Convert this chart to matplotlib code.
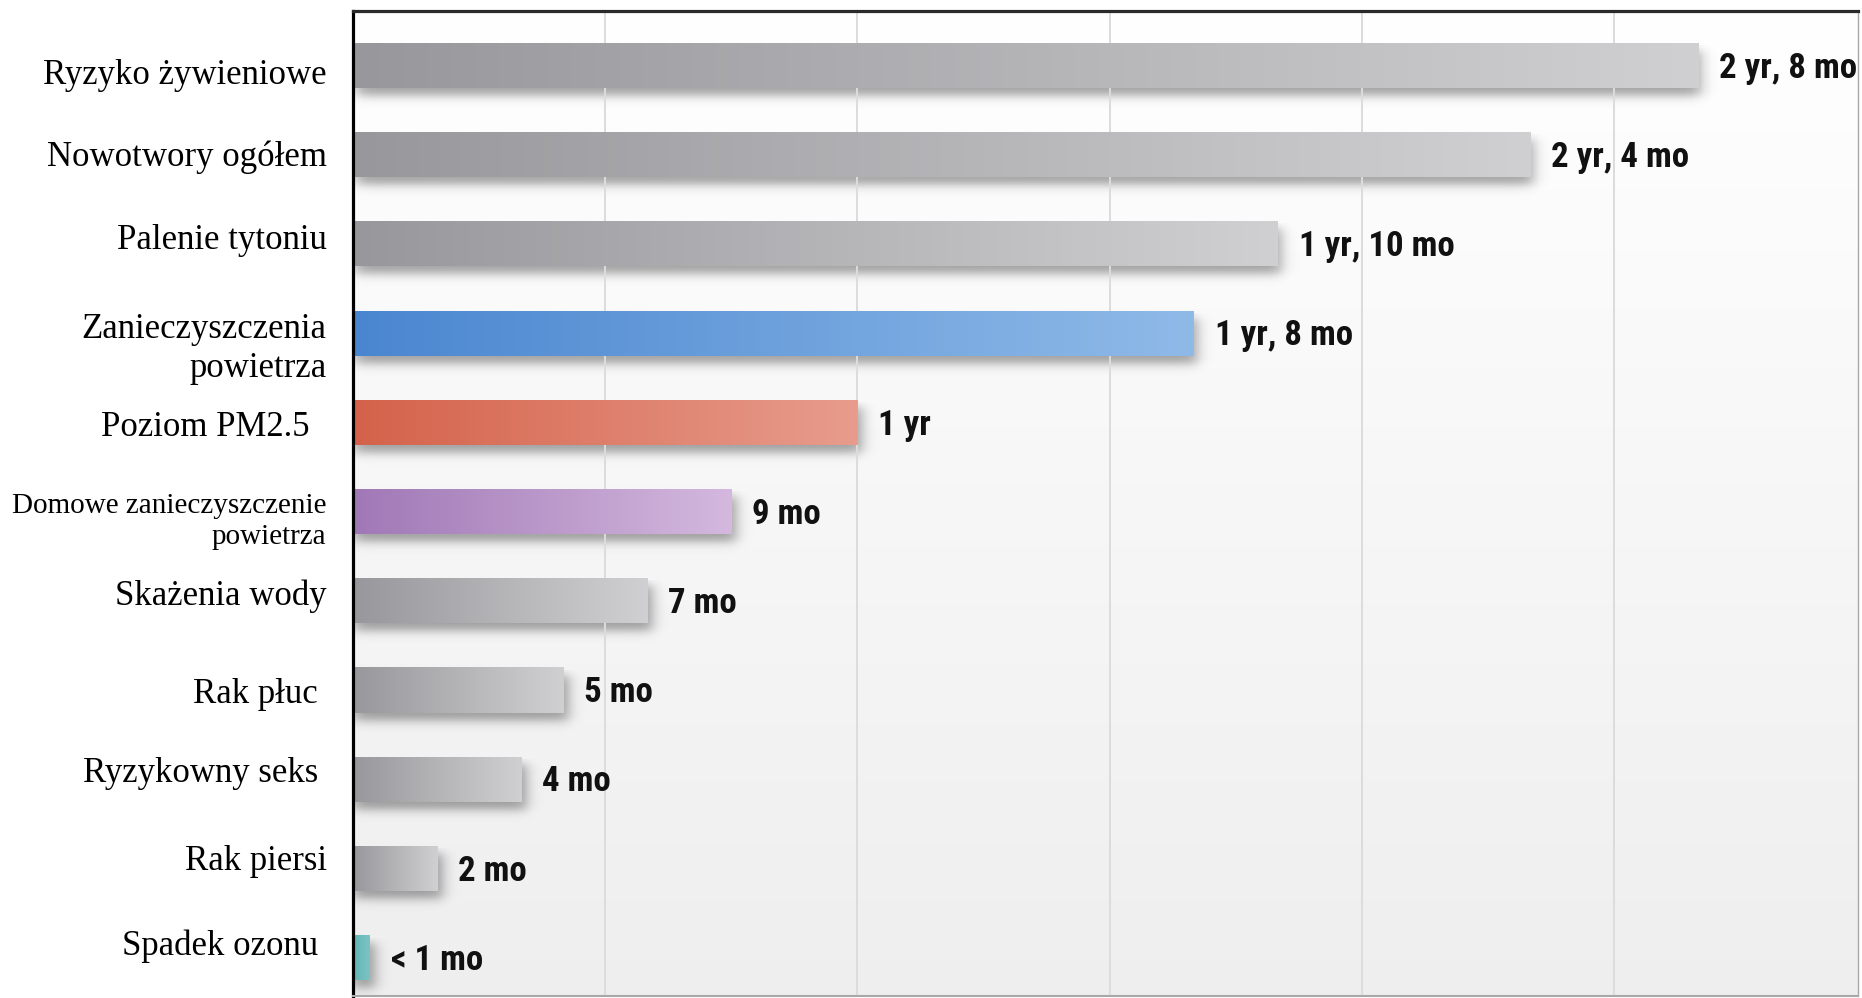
import numpy as np
import matplotlib
matplotlib.use("Agg")
import matplotlib.pyplot as plt
from matplotlib import font_manager
from matplotlib.font_manager import FontProperties
from matplotlib.textpath import TextPath
from matplotlib.colors import to_rgb

# Life expectancy lost per risk factor (in months)
categories = ["Ryzyko żywieniowe", "Nowotwory ogółem", "Palenie tytoniu",
              "Zanieczyszczenia\npowietrza", "Poziom PM2.5  ",
              "Domowe zanieczyszczenie\npowietrza", "Skażenia wody",
              "Rak płuc ", "Ryzykowny seks ", "Rak piersi", "Spadek ozonu "]
months = [32, 28, 22, 20, 12, 9, 7, 5, 4, 2, 0.4]
value_labels = ["2 yr, 8 mo", "2 yr, 4 mo", "1 yr, 10 mo", "1 yr, 8 mo", "1 yr",
                "9 mo", "7 mo", "5 mo", "4 mo", "2 mo", "< 1 mo"]

# left -> right gradient colours of each bar
gray = ("#98989c", "#d0d0d2")
bar_colors = [gray, gray, gray,
              ("#4a86d0", "#8fbae8"),
              ("#d4624a", "#e89c8d"),
              ("#a078b6", "#d4b8de"),
              gray, gray, gray, gray,
              ("#62b4b4", "#7cc4c4")]

# category label font sizes and vertical nudges (pixels, + is down)
label_sizes = [25, 25, 25, 25, 25, 21, 25, 25, 25, 25, 25]
label_nudge = [10, 3, -3, 16, 5, 10, -5, 5, -6, -7, -11]

XMAX = 35.8
YTOP, YBOT = -0.61, 10.43
BAR_H = 0.505
DPI = 100


def pick_condensed_bold():
    """Heaviest narrow sans face available on this machine."""
    files = [f.fname for f in font_manager.fontManager.ttflist]
    prefs = ["NotoSans-ExtraCondensedBlack", "NotoSans-CondensedBlack",
             "RobotoCondensed-Black.", "NotoSans-ExtraCondensedExtraBold",
             "NotoSans-CondensedExtraBold", "RobotoCondensed-ExtraBold.",
             "NotoSans-ExtraCondensedBold.", "NotoSans-CondensedBold.",
             "LiberationSansNarrow-Bold.", "RobotoCondensed-Bold.",
             "OpenSans-CondBold", "DejaVuSansCondensed-Bold."]
    for p in prefs:
        for fn in files:
            if p.lower() in fn.lower().replace(" ", ""):
                return FontProperties(fname=fn)
    for fn in files:
        low = fn.lower()
        if ("condensed" in low or "narrow" in low) and "bold" in low \
                and "italic" not in low and "semi" not in low:
            return FontProperties(fname=fn)
    return FontProperties(family="DejaVu Sans", weight="bold")


value_fp = pick_condensed_bold()
# size so that the widest label keeps the width of a condensed face
em_w = TextPath((0, 0), "2 yr, 8 mo", prop=value_fp, size=1).get_extents().width
size_px = min(136 / em_w, 38)
value_fp.set_size(size_px * 72 / DPI)

fig = plt.figure(figsize=(18.62, 9.98), dpi=DPI)
ax = fig.add_axes([353 / 1862, 2 / 998, 1505 / 1862, 985 / 998])

ypos = np.arange(len(categories))

# plot background: white at the top fading to light grey
bg = np.linspace(1.0, 0.935, 256)[:, None, None] * np.ones((1, 2, 3))
ax.imshow(bg, extent=[0, XMAX, YBOT, YTOP], aspect="auto", zorder=0,
          interpolation="bilinear")

# soft drop shadows under the bars
px_x = XMAX / 1505
px_y = (YBOT - YTOP) / 985


def soft_step(t, w):
    return 0.5 * (1 + np.tanh(t / w))


for y, v in zip(ypos, months):
    x0, x1 = 0, v + 5 * px_x
    y0, y1 = y - BAR_H / 2 + 8 * px_y, y + BAR_H / 2 + 8 * px_y
    ex = [0, v + 30 * px_x, y1 + 25 * px_y, y0 - 5 * px_y]
    xs = np.linspace(ex[0], ex[1], 200)
    ys = np.linspace(ex[3], ex[2], 80)
    X, Y = np.meshgrid(xs, ys)
    a = (soft_step(X - x0, 8 * px_x) * soft_step(x1 - X, 8 * px_x)
         * soft_step(Y - y0, 6 * px_y) * soft_step(y1 - Y, 6 * px_y))
    sh = np.zeros((len(ys), len(xs), 4))
    sh[..., 3] = 0.36 * a
    ax.imshow(sh, extent=[ex[0], ex[1], ex[2], ex[3]], aspect="auto",
              zorder=1, interpolation="bilinear")

# bars, each filled with its own horizontal gradient
bars = ax.barh(ypos, months, height=BAR_H, color=[c[0] for c in bar_colors],
               linewidth=0, zorder=2)
for bar, (c0, c1) in zip(bars, bar_colors):
    t = np.linspace(0, 1, 256)[None, :, None]
    grad = (1 - t) * np.array(to_rgb(c0)) + t * np.array(to_rgb(c1))
    x, y = bar.get_x(), bar.get_y()
    w, h = bar.get_width(), bar.get_height()
    im = ax.imshow(grad, extent=[x, x + w, y + h, y], aspect="auto", zorder=3,
                   interpolation="bilinear")
    im.set_clip_path(bar)

# value annotations to the right of each bar
for y, v, lab in zip(ypos, months, value_labels):
    ax.annotate(lab, xy=(v, y), xytext=(15, -2), textcoords="offset points",
                ha="left", va="center", color="#111111", zorder=5,
                fontproperties=value_fp)

# category names on the left
for y, lab, fs, dy in zip(ypos, categories, label_sizes, label_nudge):
    ax.annotate(lab, xy=(0, y), xycoords=("axes fraction", "data"),
                xytext=(-19, -dy * 72 / DPI), textcoords="offset points",
                ha="right", va="center", ma="right", family="Liberation Serif",
                fontsize=fs, linespacing=1.22, color="#000000",
                annotation_clip=False)

ax.set_xlim(0, XMAX)
ax.set_ylim(YBOT, YTOP)

ax.set_xticks(np.arange(6, XMAX, 6))
ax.set_xticklabels([])
ax.set_yticks([])
ax.grid(axis="x", color="#dcdcdc", linewidth=1.4)
ax.set_axisbelow(False)
for gl in ax.get_xgridlines():
    gl.set_zorder(0.5)
ax.tick_params(axis="both", length=0)

ax.spines["left"].set_color("#000000")
ax.spines["left"].set_linewidth(2.3)
ax.spines["top"].set_color("#2a2a2a")
ax.spines["top"].set_linewidth(2.3)
ax.spines["right"].set_color("#a8a8a8")
ax.spines["right"].set_linewidth(1.0)
ax.spines["bottom"].set_color("#a8a8a8")
ax.spines["bottom"].set_linewidth(1.5)
for s in ax.spines.values():
    s.set_zorder(6)

fig.savefig("out.png", dpi=DPI, facecolor="white")
